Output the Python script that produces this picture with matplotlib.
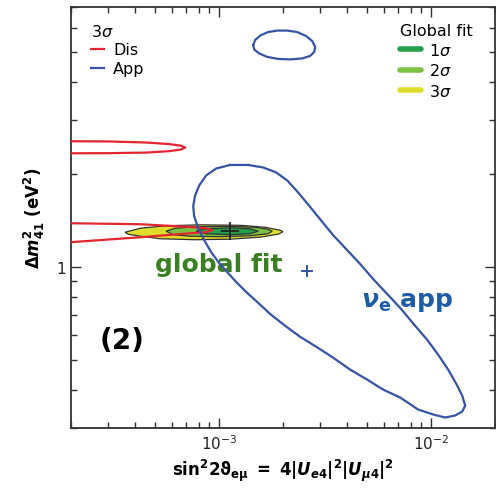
import matplotlib.pyplot as plt
from matplotlib.lines import Line2D
from matplotlib.ticker import LogLocator, NullFormatter

# nu_e appearance, 3 sigma (main region)
app_x = [1.127e-3, 1.370e-3, 1.613e-3, 1.857e-3, 2.094e-3, 2.333e-3, 2.601e-3, 2.995e-3, 3.450e-3, 4.017e-3,
         4.626e-3, 5.326e-3, 6.201e-3, 7.143e-3, 8.405e-3, 9.575e-3, 1.079e-2, 1.203e-2, 1.312e-2, 1.401e-2,
         1.447e-2, 1.401e-2, 1.298e-2, 1.164e-2, 1.022e-2, 8.683e-3, 7.143e-3, 5.937e-3, 4.991e-3, 4.149e-3,
         3.450e-3, 2.868e-3, 2.411e-3, 2.048e-3, 1.740e-3, 1.528e-3, 1.341e-3, 1.203e-3, 1.091e-3, 1.0e-3,
         9.17e-4, 8.50e-4, 7.96e-4, 7.62e-4, 7.54e-4, 7.70e-4, 8.05e-4, 8.68e-4, 9.68e-4, 1.127e-3]
app_y = [2.147, 2.147, 2.107, 2.030, 1.912, 1.762, 1.611, 1.430, 1.269, 1.135,
         1.023, 0.9144, 0.8177, 0.7369, 0.6444, 0.5803, 0.5191, 0.4642, 0.4181, 0.3823,
         0.3548, 0.3393, 0.3294, 0.3245, 0.3319, 0.3444, 0.3768, 0.3998, 0.4308, 0.4642,
         0.5076, 0.5511, 0.5934, 0.6444, 0.7040, 0.7649, 0.8299, 0.8942, 0.9634, 1.030,
         1.118, 1.223, 1.337, 1.462, 1.576, 1.710, 1.842, 1.985, 2.091, 2.147]

# nu_e appearance, 3 sigma (island near 5.5 eV^2)
island_x = [1.447e-3, 1.478e-3, 1.561e-3, 1.702e-3, 1.877e-3, 2.094e-3, 2.333e-3, 2.573e-3, 2.747e-3,
            2.837e-3, 2.806e-3, 2.687e-3, 2.464e-3, 2.162e-3, 1.898e-3, 1.684e-3, 1.544e-3, 1.463e-3,
            1.447e-3]
island_y = [5.268, 5.468, 5.654, 5.804, 5.869, 5.869, 5.804, 5.633, 5.427,
            5.190, 5.000, 4.855, 4.764, 4.729, 4.746, 4.819, 4.945, 5.095, 5.268]

# disappearance, 3 sigma
dis_hi_x = [1e-4, 3e-4, 4.5e-4, 5.8e-4, 6.6e-4, 6.92e-4, 6.6e-4, 5.8e-4, 4.5e-4, 3e-4, 1e-4]
dis_hi_y = [2.57, 2.56, 2.54, 2.51, 2.48, 2.445, 2.41, 2.38, 2.355, 2.345, 2.34]
dis_lo_x = [1e-4, 2e-4, 4.24e-4, 7.3e-4, 8.6e-4, 9.27e-4, 8.6e-4, 7.3e-4, 4.24e-4, 2e-4, 1e-4]
dis_lo_y = [1.39, 1.388, 1.378, 1.35, 1.337, 1.317, 1.297, 1.288, 1.25, 1.205, 1.20]

# global fit regions
g3_x = [3.6e-4, 4.24e-4, 5.56e-4, 8.13e-4, 1.256e-3, 1.65e-3, 1.94e-3, 2.0e-3, 1.90e-3,
        1.56e-3, 1.127e-3, 7.7e-4, 5.27e-4, 4.24e-4, 3.72e-4]
g3_y = [1.298, 1.337, 1.362, 1.372, 1.367, 1.347, 1.317, 1.303, 1.279,
        1.251, 1.232, 1.227, 1.236, 1.260, 1.279]
g2_x = [5.62e-4, 6.2e-4, 7.7e-4, 1.127e-3, 1.48e-3, 1.70e-3, 1.78e-3, 1.70e-3,
        1.40e-3, 1.01e-3, 7.3e-4, 6.07e-4]
g2_y = [1.308, 1.337, 1.352, 1.357, 1.347, 1.327, 1.308, 1.284, 1.264, 1.255, 1.260, 1.274]
g1_x = [7.79e-4, 8.59e-4, 1.127e-3, 1.40e-3, 1.53e-3, 1.40e-3, 1.127e-3, 8.59e-4]
g1_y = [1.308, 1.332, 1.342, 1.332, 1.308, 1.284, 1.274, 1.284]

best_global = (1.127e-3, 1.308)
best_app = (2.60e-3, 0.970)

RED = "#e3262f"
BLUE = "#3654a5"
C1, C2, C3 = "#22a04b", "#7cc142", "#e0dd2a"

fig = plt.figure(figsize=(4.96, 4.89), dpi=100)
ax = fig.add_axes([71 / 496, 1 - 429 / 489, 424 / 496, 421 / 489])
ax.set_xscale("log")
ax.set_yscale("log")
ax.set_xlim(2e-4, 2e-2)
ax.set_ylim(0.3, 7)

ax.fill(g3_x, g3_y, facecolor=C3, edgecolor="#333333", lw=0.9, zorder=2)
ax.fill(g2_x, g2_y, facecolor=C2, edgecolor="#333333", lw=0.9, zorder=3)
ax.fill(g1_x, g1_y, facecolor=C1, edgecolor="#333333", lw=0.9, zorder=4)

line_kw = dict(lw=1.6, solid_joinstyle="round")
ax.plot(dis_hi_x, dis_hi_y, color=RED, zorder=5, **line_kw)
ax.plot(dis_lo_x, dis_lo_y, color=RED, zorder=5, **line_kw)
ax.plot(app_x, app_y, color=BLUE, zorder=6, **line_kw)
ax.plot(island_x, island_y, color=BLUE, zorder=6, **line_kw)

ax.plot(*best_global, marker="+", color="#222222", ms=13, mew=1.3, zorder=7)
ax.plot(*best_app, marker="+", color=BLUE, ms=9, mew=1.4, zorder=7)

ax.text(1.0e-3, 1.02, "global fit", color="#3b7f24", fontsize=18, fontweight="bold",
        ha="center", va="center")
ax.text(7.7e-3, 0.773, r"$\boldsymbol{\nu}_{\mathbf{e}}$ app", color="#1f5ca6", fontsize=18,
        fontweight="bold", ha="center", va="center")
ax.text(3.5e-4, 0.58, "(2)", color="black", fontsize=20, fontweight="bold",
        ha="center", va="center")

# ticks
ax.set_yticks([1])
ax.set_yticklabels(["1"])
ax.yaxis.set_minor_locator(LogLocator(base=10, subs=[0.1 * k for k in range(1, 10)], numticks=20))
ax.yaxis.set_minor_formatter(NullFormatter())
ax.xaxis.set_minor_formatter(NullFormatter())
ax.tick_params(which="both", direction="in", top=True, right=True, colors="#333333",
               labelcolor="#222222", labelsize=11)
ax.tick_params(which="major", length=7.5, width=1)
ax.tick_params(which="minor", length=4.3, width=1)
for s in ax.spines.values():
    s.set_linewidth(1.3)
    s.set_color("#333333")

ax.set_xlabel(r"$\mathbf{sin^2 2}\boldsymbol{\vartheta}_{\mathbf{e\mu}}\mathbf{\ =\ 4|}"
              r"\boldsymbol{U}_{\boldsymbol{e}\mathbf{4}}\mathbf{|^2|}"
              r"\boldsymbol{U}_{\boldsymbol{\mu}\mathbf{4}}\mathbf{|^2}$", fontsize=12, labelpad=4)
ax.set_ylabel(r"$\mathbf{\Delta}\boldsymbol{m}^{\mathbf{2}}_{\mathbf{41}}$ (eV$^{\mathbf{2}}$)",
              fontsize=12, fontweight="bold", labelpad=7)

h1 = [Line2D([], [], color=RED, lw=1.6), Line2D([], [], color=BLUE, lw=1.6)]
leg1 = ax.legend(h1, ["Dis", "App"], title=r"3$\sigma$", loc="upper left",
                 bbox_to_anchor=(0.047, 0.963), frameon=False, fontsize=11.5, title_fontsize=11.5,
                 handlelength=0.8, handletextpad=0.6, labelspacing=0.24, alignment="left",
                 borderaxespad=0, borderpad=0)
ax.add_artist(leg1)
h2 = [Line2D([], [], color=c, lw=4, solid_capstyle="round") for c in (C1, C2, C3)]
ax.legend(h2, [r"1$\sigma$", r"2$\sigma$", r"3$\sigma$"], title="Global fit", loc="upper left",
          bbox_to_anchor=(0.777, 0.963), frameon=False, fontsize=11.5, title_fontsize=11.5,
          handlelength=1.3, handletextpad=0.5, labelspacing=0.27, alignment="left",
          borderaxespad=0, borderpad=0)

fig.savefig("out.png", dpi=100)
